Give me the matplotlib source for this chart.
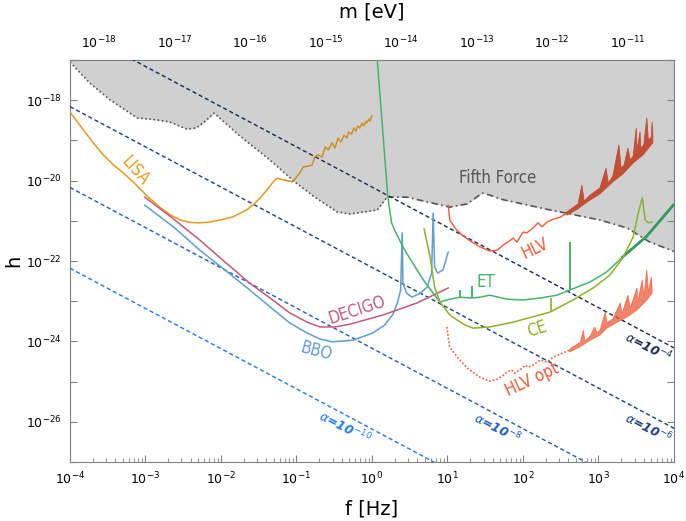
import numpy as np
import matplotlib.pyplot as plt
from matplotlib.ticker import FixedLocator, FuncFormatter, NullFormatter

# values, stored as log10 f [Hz] and log10 h
fifth_left_logf = [-4.0, -3.74, -3.47, -3.11, -2.85, -2.68, -2.45, -2.33, -2.24, -2.09,
                   -1.75, -1.35, -1.05, -0.76, -0.46, -0.29, 0.07, 0.20]
fifth_left_logh = [-17.05, -17.57, -17.99, -18.44, -18.49, -18.54, -18.72, -18.69, -18.57, -18.32,
                   -18.89, -19.49, -19.99, -20.41, -20.78, -20.83, -20.73, -20.41]
fifth_right_logf = [0.20, 0.46, 1.03, 1.26, 1.46, 1.56, 1.70, 2.36, 3.02, 3.38, 3.68, 4.0]
fifth_right_logh = [-20.41, -20.41, -20.66, -20.58, -20.31, -20.36, -20.46, -20.73, -20.98,
                    -21.18, -21.53, -21.76]

lisa_logf = [-4.0, -3.87, -3.70, -3.56, -3.43, -3.30, -3.17, -2.98, -2.81, -2.68, -2.54,
             -2.41, -2.28, -2.15, -2.01, -1.84, -1.66, -1.58, -1.48, -1.39, -1.32, -1.26,
             -1.15, -1.05, -0.95, -0.91, -0.85, -0.79, -0.76, -0.72, -0.66, -0.62, -0.58,
             -0.53, -0.49, -0.45, -0.41, -0.37, -0.33, -0.31, -0.27, -0.24, -0.21, -0.19,
             -0.16, -0.13, -0.11, -0.08, -0.07, -0.04, -0.03, 0.0]
lisa_logh = [-18.29, -18.62, -19.04, -19.36, -19.60, -19.80, -20.02, -20.38, -20.66, -20.84,
             -20.98, -21.04, -21.05, -21.03, -20.98, -20.90, -20.73, -20.61, -20.43, -20.23,
             -20.06, -19.94, -19.99, -20.03, -19.79, -19.66, -19.64, -19.61, -19.41, -19.36,
             -19.41, -19.16, -19.24, -19.06, -19.19, -18.94, -19.04, -18.87, -18.94, -18.79,
             -18.84, -18.69, -18.77, -18.64, -18.69, -18.57, -18.64, -18.52, -18.57, -18.47,
             -18.52, -18.39]

bbo_logf = [-3.01, -2.61, -2.28, -1.95, -1.62, -1.35, -1.09, -0.86, -0.69, -0.52, -0.25,
            0.01, 0.17, 0.28, 0.34, 0.38, 0.40, 0.41, 0.46, 0.53, 0.64, 0.73, 0.79, 0.81,
            0.83, 0.87, 0.94, 1.01]
bbo_logh = [-20.61, -21.18, -21.73, -22.22, -22.72, -23.14, -23.54, -23.79, -23.94, -24.01,
            -23.97, -23.79, -23.59, -23.32, -23.02, -22.72, -21.30, -22.55, -22.80, -22.90,
            -22.80, -22.65, -22.30, -20.81, -22.16, -22.30, -22.22, -21.78]

decigo_logf = [-3.01, -2.61, -2.28, -1.95, -1.62, -1.35, -1.09, -0.86, -0.69, -0.49, -0.29,
               0.15, 0.60, 1.01]
decigo_logh = [-20.41, -20.98, -21.48, -22.02, -22.55, -22.92, -23.29, -23.52, -23.64, -23.64,
               -23.57, -23.34, -23.04, -22.67]

et_logf = [0.07, 0.21, 0.26, 0.30, 0.41, 0.54, 0.68, 0.81, 0.90, 1.03, 1.17, 1.32, 1.43,
           1.56, 1.79, 2.00, 2.23, 2.45, 2.62, 2.89, 3.11, 3.32, 3.64, 3.99]
et_logh = [-17.0, -20.41, -21.05, -21.23, -21.65, -22.05, -22.47, -22.80, -23.02, -22.95,
           -22.90, -22.92, -22.90, -22.85, -22.95, -22.97, -22.92, -22.85, -22.72, -22.52,
           -22.27, -21.90, -21.38, -20.61]
et_spike_logf = [1.17, 1.32, 2.62]
et_spike_base = [-22.90, -22.92, -22.72]
et_spike_top = [-22.72, -22.62, -21.53]

ce_logf = [0.69, 0.77, 0.83, 0.90, 1.03, 1.13, 1.23, 1.34, 1.56, 1.87, 2.36, 2.66, 2.93,
           3.15, 3.32, 3.46, 3.52, 3.58, 3.62, 3.66, 3.71]
ce_logh = [-21.20, -21.90, -22.65, -23.02, -23.34, -23.47, -23.59, -23.67, -23.64, -23.52,
           -23.27, -22.97, -22.67, -22.35, -21.93, -21.40, -20.86, -20.43, -20.98, -21.05,
           -21.03]
ce_spike_logf = [2.37]
ce_spike_base = [-23.28]
ce_spike_top = [-22.92]

hlv_logf = [1.01, 1.03, 1.10, 1.19, 1.30, 1.43, 1.56, 1.66, 1.74, 1.80, 1.87, 1.92, 2.00,
            2.05, 2.13, 2.20, 2.25, 2.32, 2.40, 2.49, 2.58]
hlv_logh = [-20.61, -20.98, -21.18, -21.35, -21.50, -21.65, -21.75, -21.73, -21.60, -21.53,
            -21.43, -21.53, -21.28, -21.30, -21.18, -21.05, -21.15, -21.03, -20.96, -20.91,
            -20.81]
# dense high-frequency part: spiky upper edge and smooth lower edge
hlv_top_logf = [2.58, 2.73, 2.78, 2.81, 2.89, 3.02, 3.10, 3.13, 3.19, 3.27, 3.30, 3.34,
                3.39, 3.42, 3.46, 3.50, 3.51, 3.55, 3.56, 3.60, 3.64, 3.66, 3.70, 3.71, 3.72]
hlv_top_logh = [-20.78, -20.58, -20.11, -20.51, -20.36, -20.18, -19.69, -20.06, -19.89,
                -19.11, -19.69, -19.61, -19.19, -19.49, -19.39, -18.69, -19.26, -18.79,
                -19.19, -19.11, -18.44, -18.99, -18.92, -18.54, -18.87]
hlv_bot_logf = [2.58, 2.72, 2.85, 3.02, 3.19, 3.32, 3.46, 3.59, 3.72]
hlv_bot_logh = [-20.86, -20.71, -20.53, -20.33, -20.03, -19.84, -19.56, -19.36, -19.06]

hlvopt_logf = [0.99, 1.03, 1.13, 1.26, 1.43, 1.56, 1.66, 1.74, 1.79, 1.85, 1.89, 1.96, 2.03,
               2.07, 2.13, 2.23, 2.32, 2.40, 2.53, 2.62]
hlvopt_logh = [-23.64, -24.14, -24.39, -24.66, -24.89, -24.99, -24.94, -24.84, -24.76, -24.71,
               -24.79, -24.71, -24.59, -24.64, -24.59, -24.46, -24.51, -24.39, -24.29, -24.21]
hlvopt_top_logf = [2.62, 2.76, 2.80, 2.82, 2.89, 2.95, 2.98, 3.02, 3.09, 3.11, 3.19, 3.29,
                   3.31, 3.39, 3.42, 3.51, 3.52, 3.58, 3.60, 3.64, 3.66, 3.70, 3.71]
hlvopt_top_logh = [-24.19, -24.02, -23.72, -23.99, -23.87, -23.64, -23.79, -23.72, -23.27,
                   -23.54, -23.44, -23.04, -23.32, -22.85, -23.17, -22.67, -23.02, -22.47,
                   -22.90, -22.22, -22.77, -22.40, -22.67]
hlvopt_bot_logf = [2.62, 2.75, 2.89, 3.02, 3.11, 3.25, 3.38, 3.51, 3.64, 3.71]
hlvopt_bot_logh = [-24.26, -24.14, -23.97, -23.84, -23.67, -23.52, -23.39, -23.22, -22.97, -22.80]

# alpha lines: log10 h at f = 1e-4 and f = 1e4
alpha_exp = [-4, -6, -8, -10]
alpha_end_logf = [-4.0, 4.0]
alpha_end_logh = [[-16.16, -24.16], [-18.16, -26.16], [-20.17, -28.17], [-22.18, -30.18]]
alpha_colors = ['#17284f', '#1c3d85', '#1f5cc0', '#2079ee']
alpha_label_logf = [3.66, 3.66, 1.66, -0.36]
alpha_label_logh = [-24.14, -26.15, -26.15, -26.15]

f_decades = list(range(-4, 5))
m_decades = list(range(-18, -10))
h_eV_s = 4.1357e-15  # m = h f


def p(v):
    return 10.0 ** np.asarray(v)


fig = plt.figure(figsize=(6.86, 5.21), dpi=100)
ax = fig.add_axes([0.102, 0.1132, 0.8805, 0.7716])
ax.set_xscale('log')
ax.set_yscale('log')
ax.set_xlim(1e-4, 1e4)
ax.set_ylim(1e-27, 1e-17)

# fifth force excluded region
ff_f = p(fifth_left_logf + fifth_right_logf[1:])
ff_h = p(fifth_left_logh + fifth_right_logh[1:])
ax.fill_between(ff_f, ff_h, 1e-16, color='#d0d0d0', lw=0, zorder=1)
ax.plot(p(fifth_left_logf), p(fifth_left_logh), ls=(0, (1, 1.5)), color='#555555', lw=1.2, zorder=2)
ax.plot(p(fifth_right_logf), p(fifth_right_logh), ls=(0, (4, 2, 1, 2)), color='#555555', lw=1.2, zorder=2)

# alpha lines
for i in range(len(alpha_exp)):
    ax.plot(p(alpha_end_logf), p(alpha_end_logh[i]), ls=(0, (3, 2)), color=alpha_colors[i], lw=1, zorder=3)
    ax.text(p(alpha_label_logf[i]), p(alpha_label_logh[i]),
            r'$\alpha$=10$^{%d}$' % alpha_exp[i], color=alpha_colors[i],
            fontsize=9, fontweight='bold', fontstyle='italic', rotation=-27,
            ha='center', va='center', zorder=6)

c_lisa = '#e69a22'
c_bbo = '#5f9fcd'
c_decigo = '#c25a7d'
c_et = '#47b46c'
c_ce = '#8fb02c'
c_hlv = '#ef5a3a'
c_hlv_dark = '#c24e36'

ax.plot(p(lisa_logf[:23]), p(lisa_logh[:23]), color=c_lisa, lw=1.1, zorder=4)
ax.plot(p(lisa_logf[22:]), p(lisa_logh[22:]), color='#cc9028', lw=1.1, zorder=4)
ax.plot(p(bbo_logf), p(bbo_logh), color=c_bbo, lw=1.1, zorder=4)
ax.plot(p(decigo_logf), p(decigo_logh), color=c_decigo, lw=1.1, zorder=4)
ax.plot(p(et_logf), p(et_logh), color=c_et, lw=1.1, zorder=4)
ax.plot(p(et_logf[-3:]), p(et_logh[-3:]), color='#2e9a5c', lw=2.0, zorder=4)
ax.vlines(p(et_spike_logf), p(et_spike_base), p(et_spike_top), color=c_et, lw=1.4, zorder=4)
ax.plot(p(ce_logf), p(ce_logh), color=c_ce, lw=1.1, zorder=4)
ax.vlines(p(ce_spike_logf), p(ce_spike_base), p(ce_spike_top), color=c_ce, lw=1.2, zorder=4)

ax.plot(p(hlv_logf), p(hlv_logh), color=c_hlv, lw=1.0, zorder=4)
ax.fill(np.concatenate([p(hlv_top_logf), p(hlv_bot_logf)[::-1]]),
        np.concatenate([p(hlv_top_logh), p(hlv_bot_logh)[::-1]]),
        color=c_hlv_dark, lw=0.6, zorder=4)

ax.plot(p(hlvopt_logf), p(hlvopt_logh), color=c_hlv, lw=1.2, ls=(0, (1, 1.2)), zorder=4)
ax.fill(np.concatenate([p(hlvopt_top_logf), p(hlvopt_bot_logf)[::-1]]),
        np.concatenate([p(hlvopt_top_logh), p(hlvopt_bot_logh)[::-1]]),
        color=c_hlv, alpha=0.75, lw=0.6, zorder=4)

lab = dict(fontfamily=['Liberation Sans Narrow', 'DejaVu Sans'], fontstretch='condensed',
           ha='center', va='center', zorder=6)
ax.text(p(-3.14), p(-19.76), 'LISA', color=c_lisa, fontsize=12, rotation=-48, **lab)
ax.text(p(-0.20), p(-23.22), 'DECIGO', color=c_decigo, fontsize=12, rotation=18, **lab)
ax.text(p(-0.74), p(-24.24), 'BBO', color=c_bbo, fontsize=12, rotation=-15, **lab)
ax.text(p(1.51), p(-22.52), 'ET', color=c_et, fontsize=12, **lab)
ax.text(p(2.19), p(-23.69), 'CE', color=c_ce, fontsize=12, rotation=18, **lab)
ax.text(p(2.16), p(-21.68), 'HLV', color=c_hlv, fontsize=12, rotation=25, **lab)
ax.text(p(2.12), p(-24.96), 'HLV opt', color=c_hlv, fontsize=12, rotation=25, **lab)
ax.text(p(1.67), p(-19.94), 'Fifth Force', color='#555555', fontsize=12, **lab)

# axes styling, ticks only inside the visible range
for s in ax.spines.values():
    s.set_color('#808080')
ax.xaxis.set_major_locator(FixedLocator([10.0 ** k for k in f_decades]))
ax.xaxis.set_minor_locator(FixedLocator([j * 10.0 ** k for k in f_decades[:-1] for j in range(2, 10)]))
ax.xaxis.set_major_formatter(FuncFormatter(lambda v, pos: r'$10^{%d}$' % round(np.log10(v))))
ax.xaxis.set_minor_formatter(NullFormatter())
ax.yaxis.set_major_locator(FixedLocator([10.0 ** k for k in range(-27, -16)]))
ax.yaxis.set_minor_locator(FixedLocator([]))
ax.yaxis.set_major_formatter(FuncFormatter(
    lambda v, pos: r'$10^{%d}$' % round(np.log10(v)) if round(np.log10(v)) % 2 == 0 else ''))
ax.tick_params(which='both', direction='in', top=False, right=True, colors='#808080',
               labelcolor='black', labelsize=9, pad=6)
ax.tick_params(which='major', length=5)
ax.tick_params(which='minor', length=3)
ax.set_xlabel('f [Hz]', fontsize=14, labelpad=9)
ax.set_ylabel('h', fontsize=14, labelpad=2)

m_lo, m_hi = 1e-4 * h_eV_s, 1e4 * h_eV_s
m_minor = [j * 10.0 ** k for k in range(-19, -10) for j in range(2, 10)
           if m_lo <= j * 10.0 ** k <= m_hi]
sec = ax.secondary_xaxis('top', functions=(lambda f: f * h_eV_s, lambda m: m / h_eV_s))
sec.xaxis.set_major_locator(FixedLocator([10.0 ** k for k in m_decades]))
sec.xaxis.set_minor_locator(FixedLocator(m_minor))
sec.xaxis.set_major_formatter(FuncFormatter(lambda v, pos: r'$10^{%d}$' % round(np.log10(v))))
sec.xaxis.set_minor_formatter(NullFormatter())
sec.tick_params(which='both', direction='in', colors='#808080', labelcolor='black',
                labelsize=9, pad=6)
sec.tick_params(which='major', length=5)
sec.tick_params(which='minor', length=3)
sec.spines['top'].set_color('#808080')
sec.set_xlabel('m [eV]', fontsize=14, labelpad=13)

fig.savefig('out.png', dpi=100)
